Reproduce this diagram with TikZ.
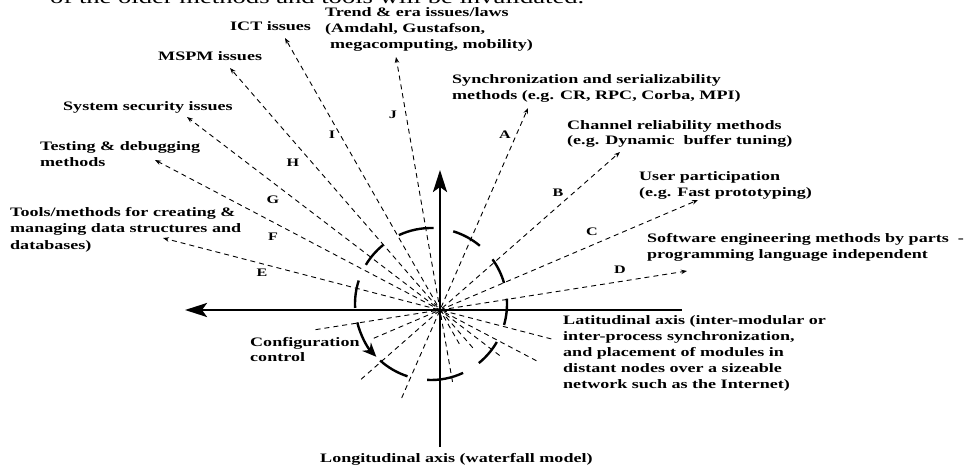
\documentclass[tikz,border=0pt]{standalone}
\usepackage{fontspec}
\setmainfont{Liberation Serif}
\newfontfamily\lblfont[FakeStretch=1.4]{Liberation Serif}
\usepackage{tikz}
\usetikzlibrary{calc}
\usetikzlibrary{arrows.meta}
\tikzset{
  lbl/.style={font=\lblfont\bfseries\fontsize{12.9}{16}\selectfont, align=left, anchor=base west, inner sep=0pt},
  letter/.style={font=\lblfont\bfseries\fontsize{11.5}{14}\selectfont, inner sep=0pt},
  ray/.style={dash pattern=on 5pt off 4pt, line width=0.9pt, -{Stealth[length=6pt,width=4.5pt]}},
  raxis/.style={line width=2.6pt, -{Stealth[length=22pt,width=14pt,inset=5pt]}},
  ring/.style={line width=2.4pt}
}

\begin{document}
\begin{tikzpicture}[x=1pt,y=-1pt]
\useasboundingbox (0,0) rectangle (966,468);
\clip (0,0) rectangle (966,468);
\def \rad {76pt}
\coordinate (O) at (440,310);
\coordinate (ringC) at (431,304);
\coordinate (latE) at (682,310);
\coordinate (latW) at (185,310);
\coordinate (lonS) at (440,447);
\coordinate (lonN) at (440,170);
\draw[raxis] (latE) -- (latW);
\draw[raxis] (lonS) -- (lonN);
\foreach \name/\tx/\ty/\back in {A/528/108/96pt, B/620/152/105pt, C/698/200/72pt, D/687/271/126pt, E/163/238/115pt, F/155/160/109pt, G/187/117/75pt, H/230/68/50pt, I/285/38/39pt, J/396/57/73pt}{
  \coordinate (tip\name) at (\tx,\ty);
  \draw[ray] ($(O)!-\back!(tip\name)$) -- (tip\name);
}
\foreach \name/\lx/\ly in {A/505/135, B/558/193, C/592/232, D/620/270, E/262/273, F/273/237, G/273/200, H/293/163, I/332/135, J/393/115}
  \node[letter] (lab\name) at (\lx,\ly) {\name};
\foreach \a/\b in {88/115, 50/73, 16/36, -16/4, -51/-30, -93/-65, -132/-108, 162/183, 129/149}
  \draw[ring] ($(ringC)+(\a:\rad)$) arc[start angle=\a, end angle=\b, radius=\rad];
\draw[ring, -{Stealth[length=14pt,width=12pt]}] ($(ringC)+(-166:\rad)$) arc[start angle=-166, end angle=-136, radius=\rad];
\node[anchor=base west, inner sep=0pt, font=\lblfont\fontsize{19}{22}\selectfont] (lead) at (50,4) {of the older methods and tools will be invalidated.};
\node[lbl] (ict) at (230,31) {ICT issues};
\node[lbl] (trend) at (325,49) {Trend \& era issues/laws\\(Amdahl, Gustafson,\\\hspace{5pt}megacomputing, mobility)};
\node[lbl] (mspm) at (158,61) {MSPM issues};
\node[lbl] (secur) at (63,111) {System security issues};
\node[lbl] (testing) at (40,166) {Testing \& debugging\\methods};
\node[lbl, font=\lblfont\bfseries\fontsize{12.9}{16.5}\selectfont] (tools) at (10,249) {Tools/methods for creating \&\\managing data structures and\\databases)};
\node[lbl] (sync) at (452,100) {Synchronization and serializability\\methods (e.g. CR, RPC, Corba, MPI)};
\node[lbl] (channel) at (567,145) {Channel reliability methods\\(e.g. Dynamic\ \ buffer tuning)};
\node[lbl] (user) at (639,196) {User participation\\(e.g. Fast prototyping)};
\node[lbl] (soft) at (647,258) {Software engineering methods by parts\ \ -\\programming language independent};
\node[lbl] (lat) at (563,388) {Latitudinal axis (inter-modular or\\inter-process synchronization,\\and placement of modules in\\distant nodes over a sizeable\\network such as the Internet)};
\node[lbl, font=\lblfont\bfseries\fontsize{12.9}{15}\selectfont] (config) at (250,361) {Configuration\\control};
\node[lbl] (lon) at (320,462) {Longitudinal axis (waterfall model)};
\end{tikzpicture}
\end{document}
